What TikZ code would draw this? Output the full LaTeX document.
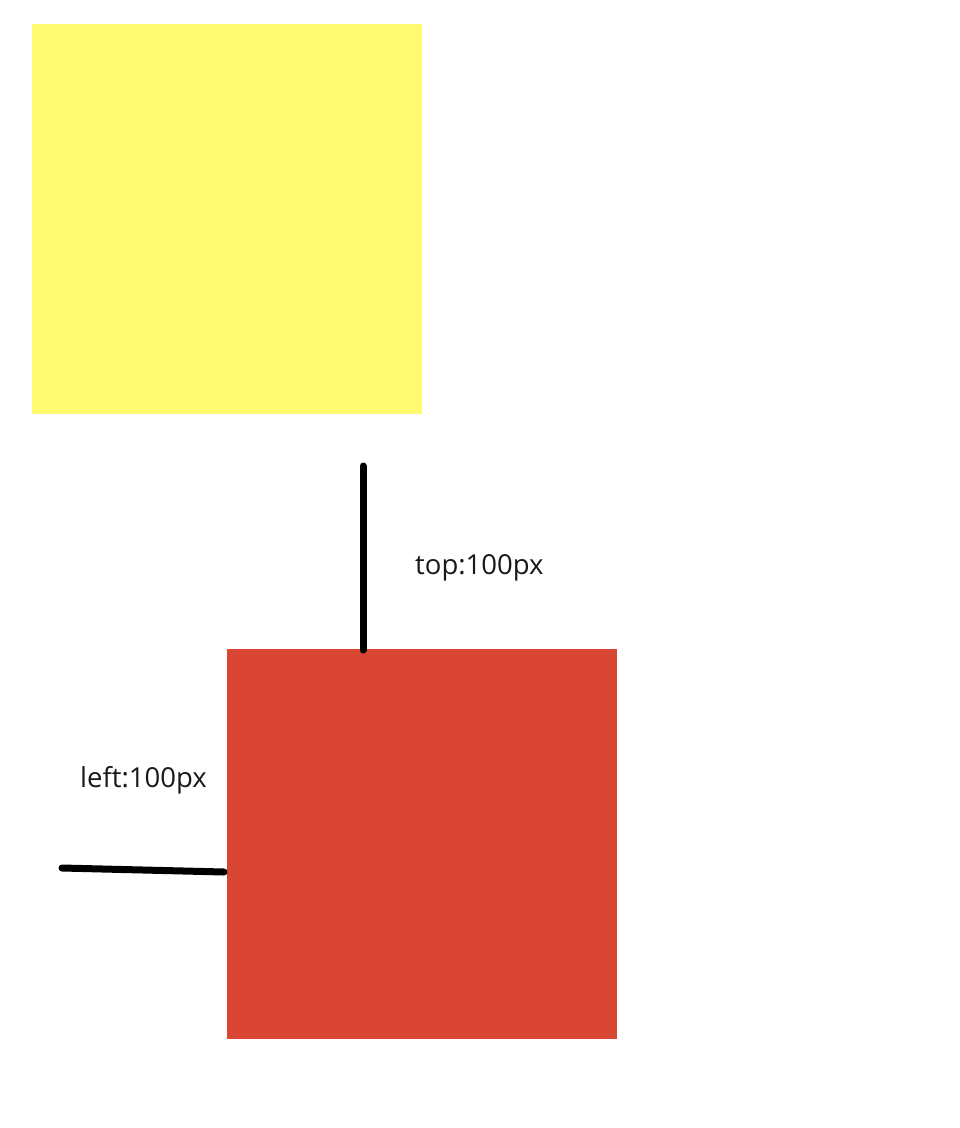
\documentclass[tikz,border=0pt]{standalone}
\usepackage{fontspec}
\setmainfont{Open Sans}
\begin{document}
\begin{tikzpicture}[x=1pt,y=-1pt,
  box/.style={draw=none,inner sep=0pt,minimum width=390pt,minimum height=390pt,anchor=north west},
  marker/.style={line width=7pt,line cap=round,black},
  lbl/.style={inner sep=0pt,font=\fontsize{27.5}{33}\selectfont,text=black!90}]
\useasboundingbox (0,0) rectangle (960,1128);
\fill[white] (0,0) rectangle (960,1128);
\node[box,fill={rgb,255:red,255;green,250;blue,112}] (yellow) at (32,24) {};
\node[box,fill={rgb,255:red,216;green,69;blue,50}] (red) at (227,649) {};
\coordinate (t1) at (363,466);
\coordinate (t2) at (363,650);
\coordinate (l1) at (62,868);
\coordinate (l2) at (224,872);
\draw[marker] (t1) -- (t2);
\draw[marker] (l1) -- (l2);
\node[lbl,anchor=west] (toplbl) at (415,568) {top:100px};
\node[lbl,anchor=west] (leftlbl) at (80,780) {left:100px};
\end{tikzpicture}
\end{document}
